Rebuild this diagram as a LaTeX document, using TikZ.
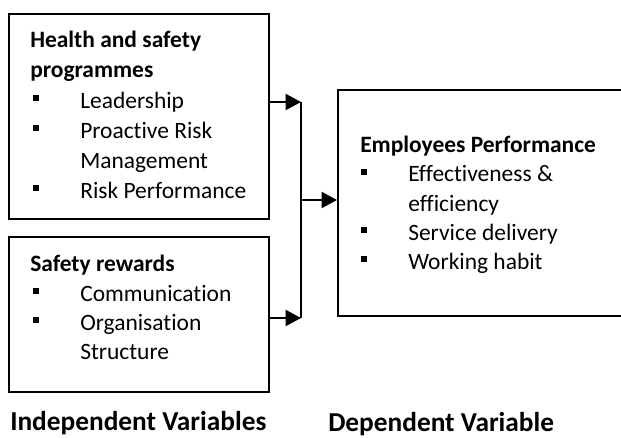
\documentclass[tikz,border=0pt]{standalone}
\usepackage{fontspec}
\setmainfont{Carlito}[RawFeature={-liga;-clig;-dlig}]
\usetikzlibrary{arrows.meta}
\newcommand{\sqbul}{\llap{\rule[5pt]{4.5pt}{4.5pt}\hspace{30.75pt}}}

\begin{document}
\begin{tikzpicture}[x=0.75pt,y=-0.75pt,
    box/.style={draw, line width=1.5pt, inner sep=0pt},
    txt/.style={anchor=base west, inner sep=0pt, font=\fontsize{17.6}{21}\selectfont},
    hd/.style={txt, font=\fontsize{17.6}{21}\selectfont\bfseries},
    var/.style={anchor=base west, inner sep=0pt, font=\fontsize{20.5}{24}\selectfont\bfseries},
    conn/.style={line width=1.5pt, -{Triangle[length=11.5pt,width=12pt]}},
    joinline/.style={line width=1.5pt}]
    \clip (0,0) rectangle (621,437);
    % Boxes
    \node[box, minimum width=195pt, minimum height=153.75pt] (hsp) at (139,116.5) {};
    \node[box, minimum width=195pt, minimum height=116.25pt] (rew) at (139,314.5) {};
    \node[box, minimum width=219pt, minimum height=169.5pt] (perf) at (484,203) {};
    % Health and safety programmes
    \node[hd] (h1) at (30,47.5) {Health and safety};
    \node[hd] (h2) at (30,77.5) {programmes};
    \node[txt] (h3) at (80,108) {\sqbul Leadership};
    \node[txt] (h4) at (80,138) {\sqbul Proactive Risk};
    \node[txt] (h5) at (80,168) {Management};
    \node[txt] (h6) at (80,198) {\sqbul Risk Performance};
    % Safety rewards
    \node[hd] (r1) at (30,271.5) {Safety rewards};
    \node[txt] (r2) at (80,301) {\sqbul Communication};
    \node[txt] (r3) at (80,330) {\sqbul Organisation};
    \node[txt] (r4) at (80,359) {Structure};
    % Employees performance
    \node[hd] (p1) at (360,152.5) {Employees Performance};
    \node[txt] (p2) at (408,181.5) {\sqbul Effectiveness \&};
    \node[txt] (p3) at (408,211) {efficiency};
    \node[txt] (p4) at (408,240) {\sqbul Service delivery};
    \node[txt] (p5) at (408,269) {\sqbul Working habit};
    % Connectors
    \coordinate (jtop) at (301,102);
    \coordinate (jbot) at (301,318);
    \coordinate (jmid) at (301,200);
    \draw[conn] (hsp.east |- jtop) -- (jtop);
    \draw[conn] (rew.east |- jbot) -- (jbot);
    \draw[joinline] (jtop) -- (jbot);
    \draw[conn] (jmid) -- (perf.west |- jmid);
    % Variable labels
    \node[var] (iv) at (10,430) {Independent Variables};
    \node[var] (dv) at (328,431) {Dependent Variable};
\end{tikzpicture}
\end{document}
